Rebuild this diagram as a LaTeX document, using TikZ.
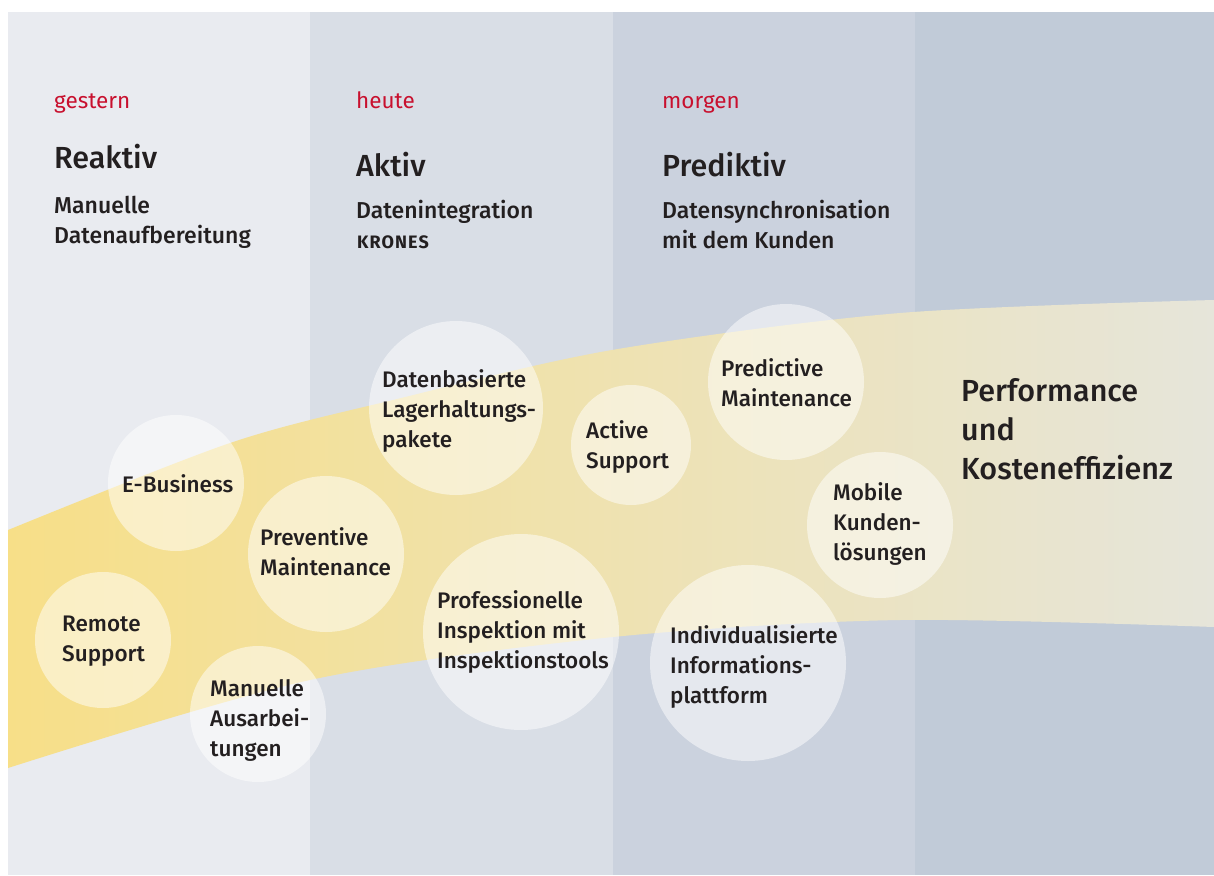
\documentclass[tikz,border=0pt]{standalone}
\usepackage{fontspec}
\setmainfont{Fira Sans}[BoldFont={Fira Sans Medium}]
\newfontfamily\krfont{Fira Sans}[UprightFont={Fira Sans Bold}, LetterSpace=6]
\definecolor{colA}{HTML}{E9EBF0}
\definecolor{colB}{HTML}{D9DEE6}
\definecolor{colC}{HTML}{CBD2DE}
\definecolor{colD}{HTML}{C1CBD8}
\definecolor{bandL}{HTML}{F7DF88}
\definecolor{bandM}{HTML}{EEDFA8}
\definecolor{bandR}{HTML}{E6E5DA}
\definecolor{ink}{HTML}{231F20}
\definecolor{krred}{HTML}{C8102E}
\begin{document}
\begin{tikzpicture}[x=1pt,y=-1pt,
  bubble/.style={circle, fill=white, fill opacity=0.5, draw=none, inner sep=0pt},
  lbl/.style={anchor=base west, align=left, inner sep=0pt, text=ink, font=\bfseries\fontsize{22.5}{30}\selectfont},
  era/.style={anchor=base west, inner sep=0pt, text=krred, font=\fontsize{22.5}{30}\selectfont},
  title/.style={anchor=base west, inner sep=0pt, text=ink, font=\bfseries\fontsize{30.5}{36}\selectfont},
  sub/.style={anchor=base west, align=left, inner sep=0pt, text=ink, font=\bfseries\fontsize{23}{30}\selectfont},
  goal/.style={anchor=base west, align=left, inner sep=0pt, text=ink, font=\bfseries\fontsize{30.5}{39}\selectfont}]
\useasboundingbox (0,0) rectangle (1214,875);
\fill[white] (0,0) rectangle (1214,875);
% columns
\fill[colA] (8,12) rectangle (310,875);
\fill[colB] (310,12) rectangle (613,875);
\fill[colC] (613,12) rectangle (915,875);
\fill[colD] (915,12) rectangle (1214,875);
% band
\shade[left color=bandL, middle color=bandM, right color=bandR]
  plot[smooth] coordinates {(8,530) (230,443) (393,400) (612,350) (900,313) (1214,300)}
  -- plot[smooth] coordinates {(1214,627) (900,620) (613,637) (310,680) (8,768)} -- cycle;
% column headings
\node[era] (e1) at (54,108) {gestern};
\node[era] (e2) at (356,108) {heute};
\node[era] (e3) at (662,108) {morgen};
\node[title] (t1) at (54,168) {Reaktiv};
\node[title] (t2) at (356,176) {Aktiv};
\node[title] (t3) at (662,176) {Prediktiv};
\node[sub] (s1) at (54,243) {Manuelle\\Datenaufbereitung};
\node[sub] (s2) at (356,218) {Datenintegration};
\node[anchor=base west, inner sep=0pt, text=ink, font=\krfont\fontsize{18}{20}\selectfont] (s2b) at (357,248) {KRONES};
\node[sub] (s3) at (662,248) {Datensynchronisation\\mit dem Kunden};
% bubbles
\node[bubble, minimum size=136pt] (ebiz) at (176,483) {};
\node[bubble, minimum size=136pt] (remote) at (103,640) {};
\node[bubble, minimum size=156pt] (prev) at (326,554) {};
\node[bubble, minimum size=136pt] (manu) at (258,714) {};
\node[bubble, minimum size=174pt] (daten) at (456,408) {};
\node[bubble, minimum size=120pt] (active) at (631,445) {};
\node[bubble, minimum size=156pt] (pred) at (786,382) {};
\node[bubble, minimum size=196pt] (prof) at (521,632) {};
\node[bubble, minimum size=196pt] (indiv) at (748,663) {};
\node[bubble, minimum size=146pt] (mobile) at (880,525) {};
% bubble labels (anchored at the baseline of the last line)
\node[lbl] (ebiz-t) at (122,492) {E-Business};
\node[lbl] (remote-t) at (62,661) {Remote\\Support};
\node[lbl] (prev-t) at (260,575) {Preventive\\Maintenance};
\node[lbl] (manu-t) at (210,756) {Manuelle\\Ausarbei-\\tungen};
\node[lbl] (daten-t) at (382,447) {Datenbasierte\\Lagerhaltungs-\\pakete};
\node[lbl] (active-t) at (586,468) {Active\\Support};
\node[lbl] (pred-t) at (721,406) {Predictive\\Maintenance};
\node[lbl] (prof-t) at (437,668) {Professionelle\\Inspektion mit\\Inspektionstools};
\node[lbl] (indiv-t) at (670,703) {Individualisierte\\Informations-\\plattform};
\node[lbl] (mobile-t) at (833,560) {Mobile\\Kunden-\\lösungen};
% goal
\node[goal] (goal) at (961,479) {Performance\\und\\Kosteneffizienz};
\end{tikzpicture}
\end{document}
